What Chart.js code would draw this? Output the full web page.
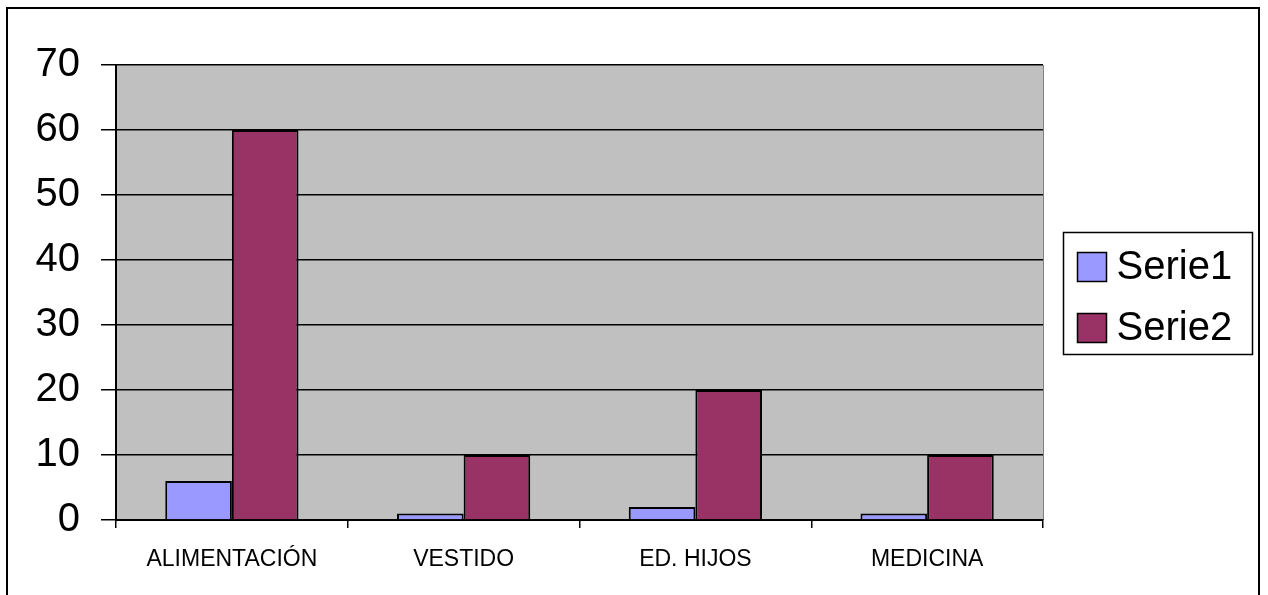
<!DOCTYPE html>
<html>
<head>
<meta charset="utf-8">
<script src="https://cdn.jsdelivr.net/npm/chart.js@4/dist/chart.umd.min.js"></script>
<style>
  body { margin: 0; background: #fff; }
  #wrap { width: 1268px; height: 595px; }
</style>
</head>
<body>
<div id="wrap"><canvas id="bar-chart" width="1268" height="595"></canvas></div>
<script>
const categories = ['ALIMENTACIÓN', 'VESTIDO', 'ED. HIJOS', 'MEDICINA'];
const serie1 = [6, 1, 2, 1];
const serie2 = [60, 10, 20, 10];
const seriesLabels = ['Serie1', 'Serie2'];
const yTicks = [0, 10, 20, 30, 40, 50, 60, 70];

// gray plot area, outer frame and the boxed legend on the right
const frame = {
  id: 'frame',
  beforeDraw(chart) {
    const { ctx, chartArea: a } = chart;
    ctx.save();
    ctx.fillStyle = '#C0C0C0';
    ctx.fillRect(a.left, a.top, a.right - a.left, a.bottom - a.top);
    ctx.strokeStyle = '#808080';
    ctx.lineWidth = 1;
    ctx.beginPath();
    ctx.moveTo(a.right + 0.5, a.top);
    ctx.lineTo(a.right + 0.5, a.bottom);
    ctx.stroke();
    ctx.restore();
  },
  afterDraw(chart) {
    const { ctx, chartArea: a } = chart;
    ctx.save();
    ctx.strokeStyle = '#000';
    ctx.lineWidth = 2;
    ctx.strokeRect(7, 8, 1252, 640);

    const boxW = 189, boxH = 122;
    const bx = a.right + 20.5;
    const by = Math.round((a.top + a.bottom) / 2 - boxH / 2) + 0.5;
    ctx.lineWidth = 1.5;
    ctx.strokeRect(bx, by, boxW, boxH);

    ctx.font = '40px Arial, "Liberation Sans", sans-serif';
    ctx.textBaseline = 'middle';
    ctx.textAlign = 'left';
    chart.data.datasets.forEach((ds, i) => {
      const cy = by + 34 + i * 61;
      ctx.fillStyle = ds.backgroundColor;
      ctx.fillRect(bx + 14, cy - 14, 29, 29);
      ctx.strokeStyle = '#000';
      ctx.lineWidth = 1.5;
      ctx.strokeRect(bx + 14, cy - 14, 29, 29);
      ctx.fillStyle = '#000';
      ctx.fillText(ds.label, bx + 53, cy + 1);
    });
    ctx.restore();
  }
};

const barData = {
  labels: categories,
  datasets: [
    {
      label: seriesLabels[0],
      data: serie1,
      backgroundColor: '#9999FF',
      borderColor: '#000',
      borderWidth: 2,
    },
    {
      label: seriesLabels[1],
      data: serie2,
      backgroundColor: '#993366',
      borderColor: '#000',
      borderWidth: 2,
    },
  ],
};

const barOptions = {
  responsive: false,
  animation: false,
  layout: { padding: { top: 65, right: 225, left: 0, bottom: 0 } },
  datasets: { bar: { categoryPercentage: 0.575, barPercentage: 1 } },
  plugins: { legend: { display: false }, tooltip: { enabled: false } },
  scales: {
    x: {
      afterFit: (scale) => { scale.height = 75; },
      border: { color: '#000', width: 2 },
      grid: { drawOnChartArea: false, drawTicks: true, tickLength: 8, tickColor: '#000', lineWidth: 1.5, offset: true },
      ticks: { color: '#000', padding: 18, font: { family: 'Arial, "Liberation Sans"', size: 23 } },
    },
    y: {
      min: 0,
      max: 70,
      afterFit: (scale) => { scale.width = 116; },
      afterBuildTicks: (scale) => { scale.ticks = yTicks.map((v) => ({ value: v })); },
      border: { color: '#000', width: 2 },
      grid: { color: '#000', lineWidth: 1.5, tickLength: 15, tickColor: '#000' },
      ticks: { color: '#000', padding: 21, font: { family: 'Arial, "Liberation Sans"', size: 40 } },
    },
  },
};

const barContext = document.getElementById('bar-chart').getContext('2d');
new Chart(barContext, {
  type: 'bar',
  data: barData,
  options: barOptions,
  plugins: [frame],
});
</script>
</body>
</html>
